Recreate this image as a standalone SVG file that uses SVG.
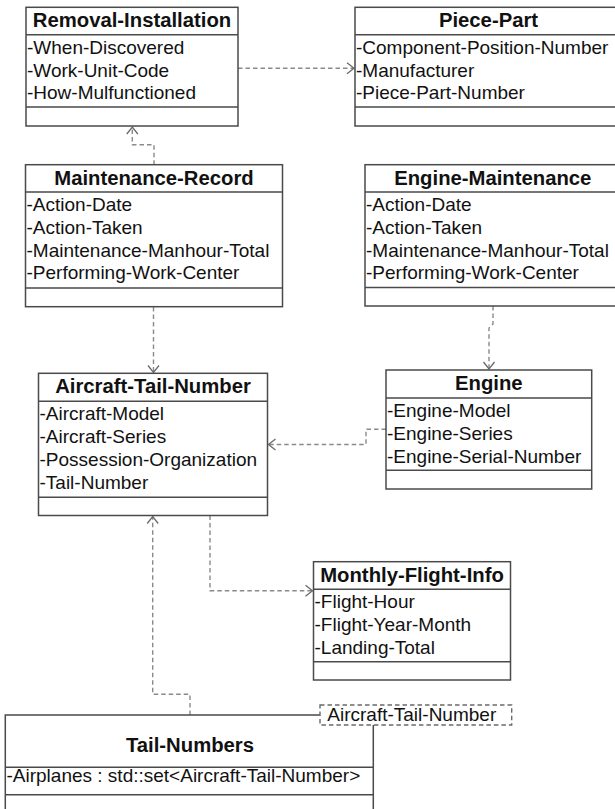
<svg xmlns="http://www.w3.org/2000/svg" width="615" height="809" viewBox="0 0 615 809">
  <style>
    .box { fill: #ffffff; stroke: #4a4a4a; stroke-width: 1.5; }
    .sep { stroke: #4a4a4a; stroke-width: 1.5; fill: none; }
    .title { font-family: "Liberation Sans", Arial, sans-serif; font-size: 20.3px; font-weight: bold; fill: #111; text-anchor: middle; }
    .attr { font-family: "Liberation Sans", Arial, sans-serif; font-size: 19px; fill: #111; }
    .dep { fill: none; stroke: #8a8a8a; stroke-width: 1.4; stroke-dasharray: 4.5 3; marker-end: url(#open); }
    .tmpl { fill: #ffffff; stroke: #6a6a6a; stroke-width: 1.4; stroke-dasharray: 4.5 3; }
  </style>
  <defs>
    <marker id="open" markerUnits="userSpaceOnUse" markerWidth="14" markerHeight="14" viewBox="-8 -7 10 14" refX="0" refY="0" orient="auto">
      <path d="M-7,-5.5 L0,0 L-7,5.5" fill="none" stroke="#6a6a6a" stroke-width="1.3"/>
    </marker>
  </defs>
  <rect width="615" height="809" fill="#ffffff"/>

  <!-- dependency connectors -->
  <g id="connectors">
    <path class="dep" d="M238,68.3 H354"/>
    <path class="dep" d="M154,164.7 V144.7 H132.3 V127"/>
    <path class="dep" d="M153.5,307 V372.5"/>
    <path class="dep" d="M493,306 V324 L489,328 V369"/>
    <path class="dep" d="M386,429.3 H366 V444.5 H268.5"/>
    <path class="dep" d="M210,515.5 V590.7 H312.5"/>
    <path class="dep" d="M190,715 V694.3 H152.7 V516.5"/>
  </g>

  <g id="removal-installation">
    <rect class="box" x="26" y="7.3" width="212" height="118.7"/>
    <path class="sep" d="M26,34.7 H238 M26,107 H238"/>
    <text class="title" x="132" y="27.3">Removal-Installation</text>
    <text class="attr" x="27" y="54">-When-Discovered</text>
    <text class="attr" x="27" y="76.7">-Work-Unit-Code</text>
    <text class="attr" x="27" y="99.3">-How-Mulfunctioned</text>
  </g>

  <g id="piece-part">
    <rect class="box" x="355" y="7.3" width="267" height="118.7"/>
    <path class="sep" d="M355,34.7 H622 M355,107 H622"/>
    <text class="title" x="488.5" y="27.3">Piece-Part</text>
    <text class="attr" x="356" y="54">-Component-Position-Number</text>
    <text class="attr" x="356" y="76.7">-Manufacturer</text>
    <text class="attr" x="356" y="99.3">-Piece-Part-Number</text>
  </g>

  <g id="maintenance-record">
    <rect class="box" x="25.5" y="164.7" width="257" height="142"/>
    <path class="sep" d="M25.5,192 H282.5 M25.5,288 H282.5"/>
    <text class="title" x="154" y="185">Maintenance-Record</text>
    <text class="attr" x="26.5" y="211">-Action-Date</text>
    <text class="attr" x="26.5" y="233.7">-Action-Taken</text>
    <text class="attr" x="26.5" y="256.5">-Maintenance-Manhour-Total</text>
    <text class="attr" x="26.5" y="279.2">-Performing-Work-Center</text>
  </g>

  <g id="engine-maintenance">
    <rect class="box" x="365" y="164.7" width="256" height="141.3"/>
    <path class="sep" d="M365,192 H621 M365,287.5 H621"/>
    <text class="title" x="492.8" y="185">Engine-Maintenance</text>
    <text class="attr" x="366" y="211">-Action-Date</text>
    <text class="attr" x="366" y="233.7">-Action-Taken</text>
    <text class="attr" x="366" y="256.5">-Maintenance-Manhour-Total</text>
    <text class="attr" x="366" y="279.2">-Performing-Work-Center</text>
  </g>

  <g id="aircraft-tail-number">
    <rect class="box" x="38.5" y="373.3" width="229" height="142.2"/>
    <path class="sep" d="M38.5,401.3 H267.5 M38.5,497.3 H267.5"/>
    <text class="title" x="153" y="393.3">Aircraft-Tail-Number</text>
    <text class="attr" x="39.5" y="420.3">-Aircraft-Model</text>
    <text class="attr" x="39.5" y="443.2">-Aircraft-Series</text>
    <text class="attr" x="39.5" y="466.3">-Possession-Organization</text>
    <text class="attr" x="39.5" y="489.2">-Tail-Number</text>
  </g>

  <g id="engine">
    <rect class="box" x="386" y="370" width="205.7" height="119"/>
    <path class="sep" d="M386,398 H591.7 M386,470.3 H591.7"/>
    <text class="title" x="488.8" y="390">Engine</text>
    <text class="attr" x="387" y="416.5">-Engine-Model</text>
    <text class="attr" x="387" y="439.5">-Engine-Series</text>
    <text class="attr" x="387" y="462.5">-Engine-Serial-Number</text>
  </g>

  <g id="monthly-flight-info">
    <rect class="box" x="313.5" y="561.7" width="197" height="118.3"/>
    <path class="sep" d="M313.5,589.3 H510.5 M313.5,661.7 H510.5"/>
    <text class="title" x="412" y="581.7">Monthly-Flight-Info</text>
    <text class="attr" x="314.5" y="608">-Flight-Hour</text>
    <text class="attr" x="314.5" y="631">-Flight-Year-Month</text>
    <text class="attr" x="314.5" y="653.5">-Landing-Total</text>
  </g>

  <g id="tail-numbers">
    <rect x="5.3" y="715" width="368" height="100" fill="#ffffff"/>
    <path class="sep" d="M320,715 H5.3 V815 M373.3,725 V815"/>
    <path class="sep" d="M5.3,767.3 H373.3 M5.3,794.7 H373.3"/>
    <text class="title" x="190" y="751.7">Tail-Numbers</text>
    <text class="attr" x="6.5" y="782">-Airplanes : std::set&lt;Aircraft-Tail-Number&gt;</text>
    <rect class="tmpl" x="320" y="705" width="191.7" height="20"/>
    <text class="attr" x="327.3" y="720.5">Aircraft-Tail-Number</text>
  </g>
</svg>
